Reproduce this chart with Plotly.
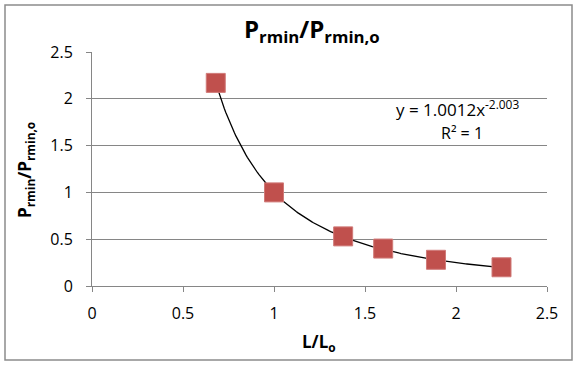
import numpy as np
import plotly.graph_objects as go

# Data
x_vals = [0.68, 1.0, 1.38, 1.6, 1.89, 2.25]
y_vals = [2.17, 1.0, 0.53, 0.40, 0.28, 0.20]
# Power trendline y = a * x^b (as shown on chart)
fit_a = 1.0012
fit_b = -2.003
x_ticks = [0, 0.5, 1, 1.5, 2, 2.5]
y_ticks = [0, 0.5, 1, 1.5, 2, 2.5]

W, H = 577, 365
L, R, T, B = 92, 30, 52, 79
pw, ph = W - L - R, H - T - B

xt = np.linspace(min(x_vals), max(x_vals), 200)
yt = fit_a * xt ** fit_b

font = "Open Sans, Liberation Sans, sans-serif"
grid = "#868686"

fig = go.Figure()
fig.add_trace(go.Scatter(x=xt, y=yt, mode="lines",
                         line=dict(color="black", width=1.3),
                         showlegend=False, hoverinfo="skip"))
fig.add_trace(go.Scatter(x=x_vals, y=y_vals, mode="markers",
                         marker=dict(symbol="square", size=19, color="#C0504D",
                                     line=dict(color="#D07A78", width=1)),
                         showlegend=False))

def px_x(p):
    return (p - L) / pw

def px_y(p):
    return (H - B - p) / ph

fig.update_layout(
    width=W, height=H,
    margin=dict(l=L, r=R, t=T, b=B),
    paper_bgcolor="white", plot_bgcolor="white",
    font=dict(family=font, size=16, color="black"),
    xaxis=dict(range=[0, 2.5], tickvals=x_ticks, ticktext=[str(v) for v in x_ticks],
               showgrid=False, zeroline=False, showline=True, linecolor=grid, linewidth=1,
               ticks="outside", ticklen=5, tickcolor=grid, fixedrange=True,
               ticklabelstandoff=8),
    yaxis=dict(range=[0, 2.5], tickvals=y_ticks, ticktext=[str(v) for v in y_ticks],
               showgrid=True, gridcolor=grid, gridwidth=1, zeroline=False,
               showline=True, linecolor=grid, linewidth=1,
               ticks="outside", ticklen=5, tickcolor=grid, fixedrange=True,
               ticklabelstandoff=10),
    shapes=[dict(type="rect", xref="paper", yref="paper",
                 x0=px_x(5), x1=px_x(572), y0=px_y(360), y1=px_y(5),
                 line=dict(color="#8c8c8c", width=1.5), fillcolor="rgba(0,0,0,0)", layer="below")],
    annotations=[
        dict(text="<b>P<sub>rmin</sub>/P<sub>rmin,o</sub></b>", xref="paper", yref="paper",
             x=px_x(312), y=px_y(30), showarrow=False, font=dict(size=24), xanchor="center", yanchor="middle"),
        dict(text="<b>L/L<sub>o</sub></b>", xref="paper", yref="paper",
             x=px_x(319), y=px_y(342), showarrow=False, font=dict(size=17), xanchor="center", yanchor="middle"),
        dict(text="<b>P<sub>rmin</sub>/P<sub>rmin,o</sub></b>", xref="paper", yref="paper",
             x=px_x(25), y=px_y(170), showarrow=False, font=dict(size=17), textangle=-90,
             xanchor="center", yanchor="middle"),
        dict(text="y = 1.0012x<sup>-2.003</sup>", xref="paper", yref="paper",
             x=px_x(457), y=px_y(108), showarrow=False, font=dict(size=17), xanchor="center", yanchor="middle"),
        dict(text="R² = 1", xref="paper", yref="paper",
             x=px_x(462), y=px_y(133), showarrow=False, font=dict(size=16), xanchor="center", yanchor="middle"),
    ],
)

fig.write_html("out.html", config={"displayModeBar": False},
               post_script="document.body.style.margin='0';")
